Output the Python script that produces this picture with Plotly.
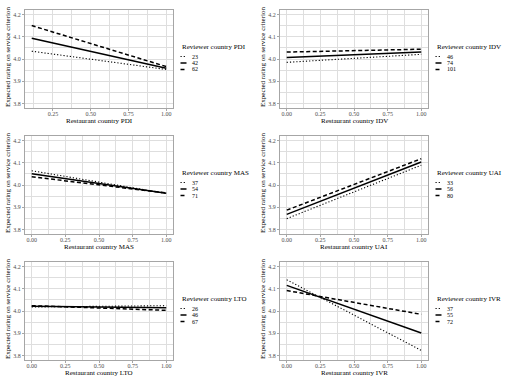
import plotly.graph_objects as go

# ---------------- data ----------------
PDI_X = [0.11, 1.00]
PDI_LEVELS = ["23", "42", "62"]
PDI_23 = [4.035, 3.953]
PDI_42 = [4.093, 3.958]
PDI_62 = [4.150, 3.966]

IDV_X = [0.00, 1.00]
IDV_LEVELS = ["46", "74", "101"]
IDV_46 = [3.985, 4.021]
IDV_74 = [4.007, 4.031]
IDV_101 = [4.031, 4.044]

MAS_X = [0.00, 1.00]
MAS_LEVELS = ["37", "54", "71"]
MAS_37 = [4.064, 3.962]
MAS_54 = [4.050, 3.963]
MAS_71 = [4.037, 3.964]

UAI_X = [0.00, 1.00]
UAI_LEVELS = ["33", "56", "80"]
UAI_33 = [3.849, 4.089]
UAI_56 = [3.868, 4.103]
UAI_80 = [3.887, 4.118]

LTO_X = [0.00, 1.00]
LTO_LEVELS = ["26", "46", "67"]
LTO_26 = [4.018, 4.024]
LTO_46 = [4.021, 4.015]
LTO_67 = [4.024, 4.003]

IVR_X = [0.00, 1.00]
IVR_LEVELS = ["37", "55", "72"]
IVR_37 = [4.140, 3.823]
IVR_55 = [4.115, 3.901]
IVR_72 = [4.092, 3.985]

Y_TICKS = [3.8, 3.9, 4.0, 4.1, 4.2]
X_TICKS_PDI = [0.25, 0.50, 0.75, 1.00]
X_TICKS = [0.00, 0.25, 0.50, 0.75, 1.00]

panels = [
    ("PDI", PDI_X, PDI_LEVELS, [PDI_23, PDI_42, PDI_62], X_TICKS_PDI),
    ("IDV", IDV_X, IDV_LEVELS, [IDV_46, IDV_74, IDV_101], X_TICKS),
    ("MAS", MAS_X, MAS_LEVELS, [MAS_37, MAS_54, MAS_71], X_TICKS),
    ("UAI", UAI_X, UAI_LEVELS, [UAI_33, UAI_56, UAI_80], X_TICKS),
    ("LTO", LTO_X, LTO_LEVELS, [LTO_26, LTO_46, LTO_67], X_TICKS),
    ("IVR", IVR_X, IVR_LEVELS, [IVR_37, IVR_55, IVR_72], X_TICKS),
]

# ---------------- styling / layout ----------------
W, H = 508, 383
FONT = "Liberation Serif"
COL_LEFT = [25, 280]
ROW_TOP = [10, 136, 262]
PW, PH = 148, 98
DASHES = ["1.2px,2px", "solid", "4px,2.5px"]
WIDTHS = [1.1, 1.5, 1.5]
GRID = "#dedede"
BORDER = "#a6a6a6"


def px(x):
    return x / W


def py(y):
    return 1 - y / H


fig = go.Figure()
annotations = []
shapes = []

for i, (name, xs, levels, series, xticks) in enumerate(panels):
    r, c = divmod(i, 2)
    left, top = COL_LEFT[c], ROW_TOP[r]
    suffix = "" if i == 0 else str(i + 1)
    xa, ya = "x" + suffix, "y" + suffix

    for lvl, ys, dash, w in zip(levels, series, DASHES, WIDTHS):
        fig.add_trace(go.Scatter(
            x=xs, y=ys, mode="lines", xaxis=xa, yaxis=ya,
            line=dict(color="black", width=w, dash=dash),
            showlegend=False, name=lvl, hoverinfo="skip"))

    xmin, xmax = min(xs), max(xs)
    pad = 0.05 * (xmax - xmin)
    common = dict(showline=True, mirror=True, linecolor=BORDER, linewidth=1.3,
                  showgrid=True, gridcolor=GRID, gridwidth=0.8, zeroline=False,
                  ticks="outside", ticklen=2, tickcolor=BORDER, tickwidth=0.8,
                  tickfont=dict(family=FONT, size=6, color="#4d4d4d"))
    fig.update_layout(**{
        "xaxis" + suffix: dict(
            domain=[px(left), px(left + PW)], anchor=ya,
            range=[xmin - pad, xmax + pad], tickvals=xticks,
            ticktext=[f"{t:.2f}" for t in xticks], ticklabelstandoff=-2,
            minor=dict(dtick=0.125, tick0=0.125, showgrid=True, gridcolor=GRID, gridwidth=0.4, ticks=""),
            **common),
        "yaxis" + suffix: dict(
            domain=[py(top + PH), py(top)], anchor=xa,
            range=[3.78, 4.22], tickvals=Y_TICKS,
            ticktext=[f"{t:.1f}" for t in Y_TICKS],
            minor=dict(dtick=0.05, tick0=3.75, showgrid=True, gridcolor=GRID, gridwidth=0.4, ticks=""),
            **common),
    })

    # axis titles
    annotations.append(dict(
        text=f"Restaurant country {name}", xref="paper", yref="paper",
        x=px(left + PW / 2), y=py(top + 111), xanchor="center", yanchor="middle",
        showarrow=False, font=dict(family=FONT, size=7, color="black")))
    annotations.append(dict(
        text="Expected rating on service criterion", xref="paper", yref="paper",
        x=px(left - 17), y=py(top + PH / 2 - 2), xanchor="center", yanchor="middle",
        textangle=-90, showarrow=False, font=dict(family=FONT, size=7, color="black")))

    # legend (drawn manually to match the compact ggplot legend)
    lx = left + PW + 7
    annotations.append(dict(
        text=f"Reviewer country {name}", xref="paper", yref="paper",
        x=px(lx), y=py(top + 37), xanchor="left", yanchor="middle",
        showarrow=False, font=dict(family=FONT, size=7, color="black")))
    for k, (lvl, dash, w) in enumerate(zip(levels, DASHES, WIDTHS)):
        yy = top + 46.5 + k * 6.5
        shapes.append(dict(type="line", xref="paper", yref="paper",
                           x0=px(lx + 0.5), x1=px(lx + 6.5), y0=py(yy), y1=py(yy),
                           line=dict(color="black", width=w, dash=dash)))
        annotations.append(dict(
            text=lvl, xref="paper", yref="paper",
            x=px(lx + 10), y=py(yy), xanchor="left", yanchor="middle",
            showarrow=False, font=dict(family=FONT, size=6, color="black")))

fig.update_layout(
    width=W, height=H, margin=dict(l=0, r=0, t=0, b=0),
    paper_bgcolor="white", plot_bgcolor="white",
    showlegend=False, annotations=annotations, shapes=shapes,
    font=dict(family=FONT))

fig.write_html("out.html", config={"displayModeBar": False},
               post_script="document.body.style.margin='0';document.body.style.padding='0';")
